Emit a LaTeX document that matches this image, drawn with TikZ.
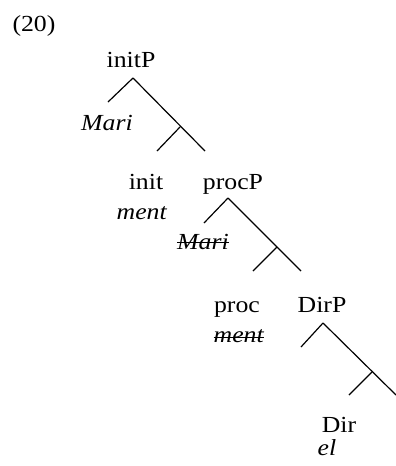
\documentclass[tikz,border=0pt]{standalone}
\usepackage{fontspec}
\setmainfont[FakeStretch=1.12]{Liberation Serif}
\usepackage{tikz}

\tikzset{
	lbl/.style={inner sep=0pt, anchor=base, font=\fontsize{23}{27}\selectfont},
	branch/.style={line width=1.2pt},
	strike/.style={line width=1pt}
}

\begin{document}
\begin{tikzpicture}[x=1pt,y=-1pt]
	  \useasboundingbox (0,0) rectangle (396,466);
	  \node [lbl] (ex) at (34,31) {(20)};
	  \node [lbl] (initP) at (131,67) {initP};
	  \node [lbl] (spec1) at (107,130) {\textit{Mari}};
	  \node [lbl] (init) at (146,189) {init};
	  \node [lbl] (ment1) at (142,219) {\textit{ment}};
	  \node [lbl] (procP) at (233,189) {procP};
	  \node [lbl] (spec2) at (203,249) {\textit{Mari}};
	  \node [lbl] (proc) at (237,312) {proc};
	  \node [lbl] (ment2) at (239,342) {\textit{ment}};
	  \node [lbl] (DirP) at (322,312) {DirP};
	  \node [lbl] (Dir) at (339,432) {Dir};
	  \node [lbl] (el) at (327,455) {\textit{el}};
	  \draw [strike] ([yshift=6.5pt]spec2.base west) -- ([yshift=6.5pt]spec2.base east);
	  \draw [strike] ([yshift=5pt]ment2.base west) -- ([yshift=5pt]ment2.base east);
	  \coordinate (top1) at (133,78);
	  \coordinate (left1) at (108,102);
	  \coordinate (mid1) at (180,127);
	  \coordinate (right1) at (205,151);
	  \coordinate (low1) at (157,151);
	  \coordinate (top2) at (228,198);
	  \coordinate (left2) at (204,223);
	  \coordinate (mid2) at (277,247);
	  \coordinate (right2) at (301,271);
	  \coordinate (low2) at (253,271);
	  \coordinate (top3) at (323,323);
	  \coordinate (left3) at (301,347);
	  \coordinate (mid3) at (372,372);
	  \coordinate (right3) at (396,395);
	  \coordinate (low3) at (349,395);
	  \foreach \i in {1,2,3} {
	    \draw [branch] (top\i) -- (left\i);
	    \draw [branch] (top\i) -- (right\i);
	    \draw [branch] (mid\i) -- (low\i);
	  }
	\end{tikzpicture}
\end{document}
